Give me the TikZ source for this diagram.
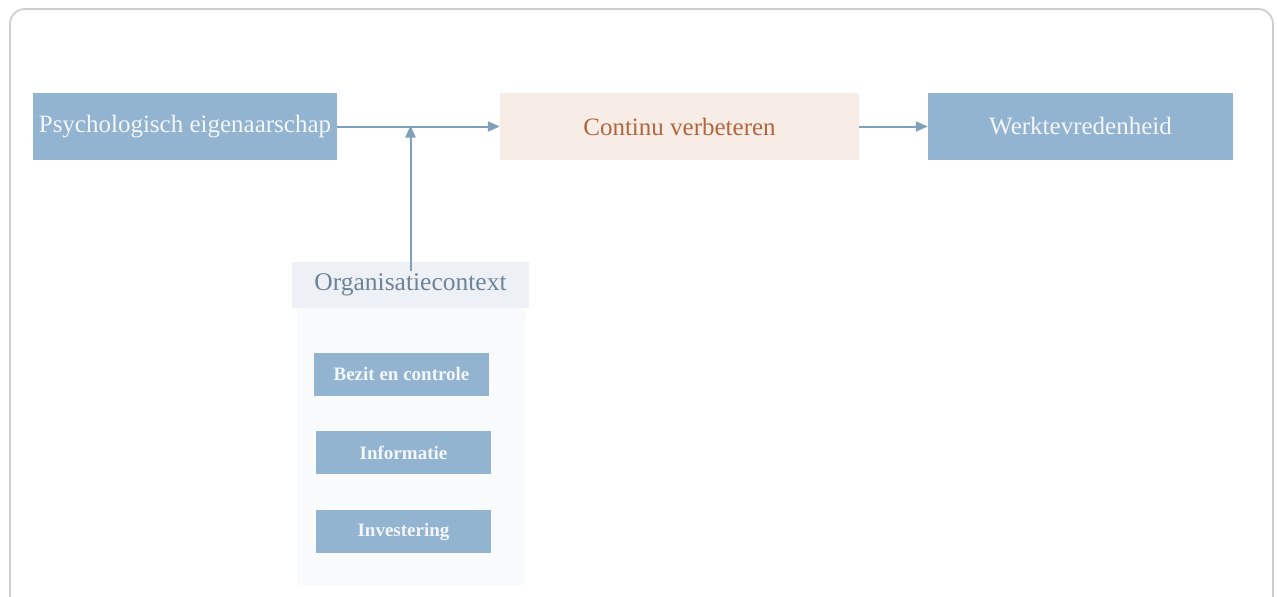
\documentclass[tikz,border=0pt]{standalone}
\usepackage{fontspec}
\setmainfont{Liberation Serif}
\usetikzlibrary{arrows.meta}
\definecolor{boxblue}{HTML}{93B4D1}
\definecolor{boxtext}{HTML}{F3F6FA}
\definecolor{arrowc}{HTML}{809FBB}
\definecolor{peach}{HTML}{F8ECE7}
\definecolor{peachtext}{HTML}{B0673F}
\definecolor{hdrfill}{HTML}{EDF1F6}
\definecolor{hdrtext}{HTML}{6E8496}
\definecolor{panelfill}{HTML}{F8FAFC}
\definecolor{framec}{HTML}{CFCFCF}
\tikzset{
  mainbox/.style={rectangle, inner sep=0pt, minimum height=67pt, font=\fontsize{25}{30}\selectfont},
  bluebox/.style={mainbox, fill=boxblue, text=boxtext},
  subbox/.style={rectangle, inner sep=0pt, fill=boxblue, text=boxtext, minimum width=175pt, minimum height=43pt, font=\bfseries\fontsize{19}{23}\selectfont},
  conn/.style={draw=arrowc, line width=2pt, -{Triangle[length=12pt,width=10pt]}}
}
\begin{document}
\begin{tikzpicture}[x=1pt,y=-1pt]
\useasboundingbox (0,0) rectangle (1277,597);
\begin{scope}
\clip (0,0) rectangle (1277,597);
\draw[framec, line width=1.8pt, rounded corners=15pt] (10,9) rectangle (1273,640);
\end{scope}
% panel
\fill[panelfill] (297,308) rectangle (525,585);
\node[rectangle, inner sep=0pt, fill=hdrfill, text=hdrtext, minimum width=237pt, minimum height=46pt, font=\fontsize{25.5}{30}\selectfont] (org) at (410.5,285) {Organisatiecontext};
\node[subbox] (bezit) at (401.5,374) {Bezit en controle};
\node[subbox] (info) at (403.5,452.5) {Informatie};
\node[subbox] (inv) at (403.5,531.5) {Investering};
% main row
\node[bluebox, minimum width=304pt] (psych) at (185,126.5) {Psychologisch eigenaarschap};
\node[mainbox, fill=peach, text=peachtext, minimum width=359pt] (cont) at (679.5,126.5) {Continu verbeteren};
\node[bluebox, minimum width=305pt] (werk) at (1080.5,126.5) {Werktevredenheid};
\coordinate (m) at (410.5,126.5);
\draw[conn] (psych.east) -- (cont.west);
\draw[conn] (cont.east) -- (werk.west);
\draw[conn] ([yshift=-9pt]org.north) -- ([yshift=1pt]m);
\end{tikzpicture}
\end{document}
